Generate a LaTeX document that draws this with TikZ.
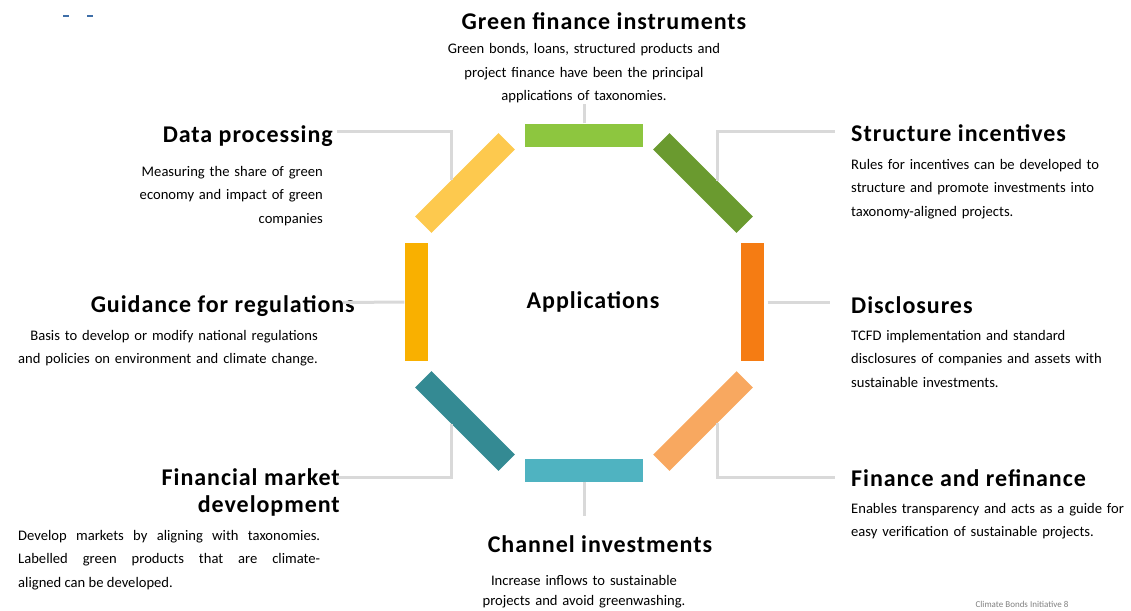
\documentclass[tikz,border=0pt]{standalone}
\usepackage{fontspec}
\setmainfont{Carlito}
\usepackage{tikz}
\usetikzlibrary{positioning,calc}
\definecolor{gfigreen}{HTML}{8DC63F}
\definecolor{sigreen}{HTML}{6A9A2F}
\definecolor{disorange}{HTML}{F57C13}
\definecolor{farorange}{HTML}{F8A860}
\definecolor{citeal}{HTML}{4FB3C1}
\definecolor{fmdteal}{HTML}{348A93}
\definecolor{gryellow}{HTML}{F9B000}
\definecolor{dpyellow}{HTML}{FDC94E}
\definecolor{linkgray}{HTML}{D9D9D9}
\definecolor{dashblue}{HTML}{3F6FA8}

\begin{document}
\begin{tikzpicture}[x=1pt,y=-1pt]
  \def\gap{16pt}
  \tikzset{bar/.style={minimum width=118pt,minimum height=23pt,inner sep=0pt}}
  \tikzset{link/.style={draw=linkgray,line width=3pt}}
  \tikzset{head/.style={font=\fontsize{24}{27}\selectfont\bfseries\addfontfeatures{LetterSpace=4},inner sep=0pt}}
  \tikzset{body/.style={font=\fontsize{14.6}{23.5}\selectfont,inner sep=0pt,text width=#1}}
  \useasboundingbox (0,0) rectangle (1131,610);

  \node[bar,fill=gfigreen] (gfi) at (584,135) {};
  \node[bar,fill=sigreen,rotate=-45] (si) at (703,183) {};
  \node[bar,fill=disorange,rotate=90] (dis) at (752,302) {};
  \node[bar,fill=farorange,rotate=45] (far) at (703,421) {};
  \node[bar,fill=citeal] (ci) at (584,470) {};
  \node[bar,fill=fmdteal,rotate=-45] (fmd) at (465,421) {};
  \node[bar,fill=gryellow,rotate=90] (gr) at (416,302) {};
  \node[bar,fill=dpyellow,rotate=45] (dp) at (465,183) {};

  \node[head,anchor=center] (app) at (593,302) {Applications};

  \node[head,anchor=base] (gfih) at (604,30) {Green finance instruments};
  \node[body=310pt,align=center,anchor=base] (gfib) at (584,54)
    {Green bonds, loans, structured products and\\project finance have been the principal\\applications of taxonomies.};

  \node[head,anchor=base west] (sih) at (851,141) {Structure incentives};
  \node[body=280pt,anchor=base west] (sib) at (851,169)
    {Rules for incentives can be developed to\\structure and promote investments into\\taxonomy-aligned projects.};

  \node[head,anchor=base west] (dish) at (851,313) {Disclosures};
  \node[body=280pt,anchor=base west] (disb) at (851,340)
    {TCFD implementation and standard\\disclosures of companies and assets with\\sustainable investments.};

  \node[head,anchor=base west] (farh) at (851,486) {Finance and refinance};
  \node[body=280pt,anchor=base west] (farb) at (851,513)
    {Enables transparency and acts as a guide for\\easy verification of sustainable projects.};

  \node[head,anchor=base] (cih) at (600,552) {Channel investments};
  \node[body=300pt,align=center,anchor=base,font=\fontsize{14.6}{20}\selectfont] (cib) at (584,585)
    {Increase inflows to sustainable\\projects and avoid greenwashing.};

  \node[head,anchor=base east,align=right] (fmdh) at (340,512) {Financial market\\development};
  \node[body=302pt,align=justify,anchor=base west] (fmdb) at (18,540)
    {Develop markets by aligning with taxonomies.\linebreak Labelled green products that are climate-\linebreak aligned can be developed.};

  \node[head,anchor=base east] (grh) at (355,312) {Guidance for regulations};
  \node[body=340pt,align=right,anchor=base east] (grb) at (318,340)
    {Basis to develop or modify national regulations\\and policies on environment and climate change.};

  \node[head,anchor=base east] (dph) at (333,142) {Data processing};
  \node[body=260pt,align=right,anchor=base east] (dpb) at (323,176)
    {Measuring the share of green\\economy and impact of green\\companies};

  \node[font=\fontsize{9}{11}\selectfont,text=gray,inner sep=0pt] (cbi) at (1022,604) {Climate Bonds Initiative 8};

  \draw[link] (gfi.north) -- (gfi.north |- gfib.south);
  \draw[link] (ci.south) -- ($(ci.south)!0.65!(ci.south |- cih.north)$);
  \draw[link] ($(dp.north)!0.12!(dp.north west)$) |- ([xshift=4pt,yshift=11pt]dph.base east);
  \draw[link] ($(si.north)!0.14!(si.north east)$) |- ([xshift=-\gap,yshift=1.5pt]sih.west);
  \draw[link] (gr.north) -- ([xshift=-12pt,yshift=9.5pt]grh.base east);
  \draw[link] ([xshift=4pt]dis.south) -- ([xshift=-21pt,yshift=11pt]dish.base west);
  \draw[link] ($(fmd.south)!0.12!(fmd.south west)$) |- ([xshift=-3pt,yshift=35pt]fmdh.base east);
  \draw[link] ($(far.south)!0.14!(far.south east)$) |- ([xshift=-\gap,yshift=9pt]farh.base west);

  \draw[dashblue,line width=2pt] (63,16) -- (69,16);
  \draw[dashblue,line width=2pt] (87,16) -- (93,16);
\end{tikzpicture}
\end{document}
